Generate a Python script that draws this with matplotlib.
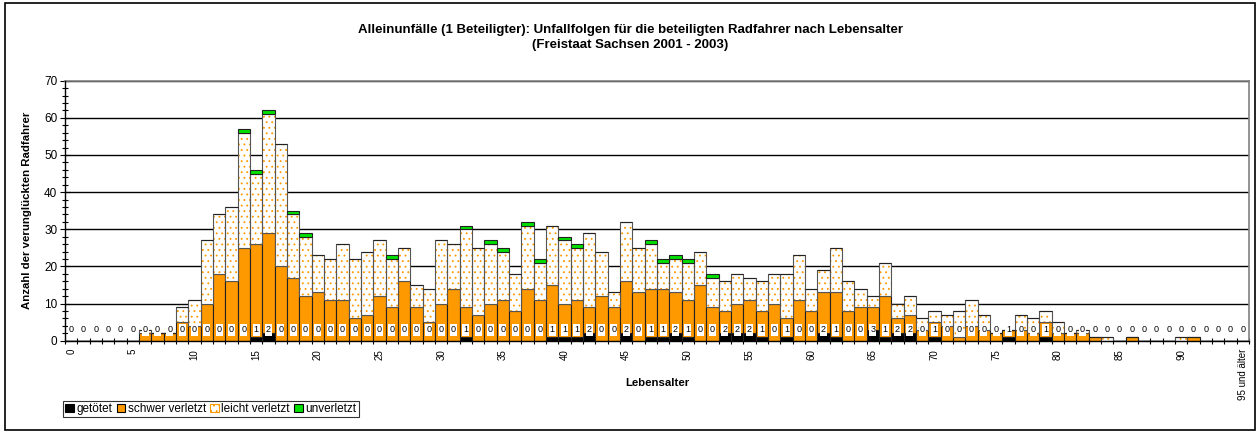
import matplotlib
matplotlib.use("Agg")
import matplotlib.pyplot as plt
from matplotlib.patches import Patch, Rectangle
import numpy as np

plt.rcParams['font.family'] = ['Liberation Sans', 'DejaVu Sans']
plt.rcParams['hatch.linewidth'] = 0.6

# ---------------- data ----------------
ages = list(range(96))
tick_labels = [str(a) if a % 5 == 0 and a < 95 else "" for a in ages]
tick_labels[95] = "95 und älter"

getoetet = [0]*15 + [1, 2] + [0]*15 + [1] + [0]*6 + [1, 1, 1, 2, 0, 0, 2, 0, 1, 1, 2, 1, 0, 0,
            2, 2, 2, 1, 0, 1, 0, 0, 2, 1, 0, 0, 3, 1, 2, 2, 0, 1, 0, 0, 0, 0, 0, 1, 0, 0, 1] + [0]*16

schwer = [0, 0, 0, 0, 0, 0, 2, 2, 2, 5, 4, 10, 18, 16, 25, 25, 27, 20, 17, 12,
          13, 11, 11, 6, 7, 12, 9, 16, 9, 5, 10, 14, 8, 7, 10, 11, 8, 14, 11, 14,
          9, 10, 7, 12, 9, 14, 13, 13, 13, 11, 10, 15, 9, 6, 8, 9, 7, 10, 5, 11,
          8, 11, 12, 8, 9, 6, 11, 4, 5, 3, 4, 4, 1, 4, 3, 2, 2, 3, 2, 4,
          2, 2, 2, 1, 0, 0, 1, 0, 0, 0, 0, 1, 0, 0, 0, 0]

leicht = [0, 0, 0, 0, 0, 0, 1, 0, 0, 4, 7, 17, 16, 20, 31, 19, 32, 33, 17, 16,
          10, 11, 15, 16, 17, 15, 13, 9, 6, 9, 17, 12, 21, 18, 16, 13, 10, 17, 10, 16,
          17, 14, 20, 12, 4, 16, 12, 12, 7, 9, 10, 9, 8, 8, 8, 6, 8, 8, 12, 12,
          6, 6, 12, 8, 5, 3, 9, 4, 5, 3, 3, 3, 7, 7, 4, 0, 0, 4, 4, 3,
          3, 0, 1, 0, 1, 0, 0, 0, 0, 0, 1, 0, 0, 0, 0, 0]

unverletzt = [0]*96
for a in [14, 15, 16, 18, 19, 26, 32, 34, 35, 37, 38, 40, 41, 47, 48, 49, 50, 52]:
    unverletzt[a] = 1

series_names = ["getötet", "schwer verletzt", "leicht verletzt", "unverletzt"]
title = ("Alleinunfälle (1 Beteiligter): Unfallfolgen für die beteiligten Radfahrer nach Lebensalter\n"
         "(Freistaat Sachsen 2001 - 2003)")

# ---------------- plot ----------------
BLACK = "#000000"
ORANGE = "#FF9900"
GREEN = "#00E000"

fig = plt.figure(figsize=(12.6, 4.32), dpi=100)
ax = fig.add_axes([0.0516, 0.2113, 0.9397, 0.6019])

x = np.arange(len(ages))
g = np.array(getoetet, float)
s = np.array(schwer, float)
l = np.array(leicht, float)
u = np.array(unverletzt, float)

w = 1.0
ax.bar(x, g, width=w, color=BLACK, edgecolor="#222222", linewidth=0.8, zorder=3)
ax.bar(x, s, width=w, bottom=g, color=ORANGE, edgecolor="#222222", linewidth=0.8, zorder=3)
ax.bar(x, l, width=w, bottom=g + s, color="white", edgecolor=ORANGE, hatch="...",
       linewidth=0, zorder=3)
ax.bar(x, l, width=w, bottom=g + s, fill=False, edgecolor="#555555", linewidth=0.8, zorder=3)
ax.bar(x, u, width=w, bottom=g + s + l, color=GREEN, edgecolor="#222222", linewidth=0.8, zorder=3)

for xi, val in zip(x, getoetet):
    ax.text(xi, 2.9, str(val), ha="center", va="center", fontsize=6.5, zorder=5,
            bbox=dict(boxstyle="square,pad=0.12", facecolor="white", edgecolor="none"))

ax.set_xlim(-0.5, 95.5)
ax.set_ylim(0, 70)
ax.set_yticks(np.arange(0, 71, 10))
ax.set_yticks(np.arange(0, 71, 2), minor=True)
ax.tick_params(axis="y", which="major", direction="inout", length=7, width=0.8, labelsize=8.5, pad=2)
ax.tick_params(axis="y", which="minor", direction="inout", length=4, width=0.8)

ax.set_xticks(x)
ax.set_xticklabels(tick_labels, rotation=90, fontsize=7)
ax.set_xticks(np.arange(-0.5, 96, 1), minor=True)
ax.tick_params(axis="x", which="major", length=0, pad=6)
ax.tick_params(axis="x", which="minor", direction="inout", length=5, width=0.8)

ax.grid(axis="y", which="major", color="black", linewidth=1.0, zorder=0)
ax.set_axisbelow(True)
for side in ["top", "right"]:
    ax.spines[side].set_color("#808080")
    ax.spines[side].set_linewidth(1.2)
for side in ["left", "bottom"]:
    ax.spines[side].set_color("black")
    ax.spines[side].set_linewidth(1.0)
    ax.spines[side].set_zorder(6)

ax.set_ylabel("Anzahl der verunglückten Radfahrer", fontsize=8.2, fontweight="bold")
ax.yaxis.set_label_coords(-0.028, 0.5)
ax.set_xlabel("Lebensalter", fontsize=8.2, fontweight="bold")
ax.xaxis.set_label_coords(0.5, -0.143)

fig.text(0.5, 0.913, title, ha="center", va="center", fontsize=9.5, fontweight="bold", linespacing=1.35)

handles = [
    Patch(facecolor=BLACK, edgecolor="black", linewidth=0.8),
    Patch(facecolor=ORANGE, edgecolor="black", linewidth=0.8),
    Patch(facecolor="white", edgecolor=ORANGE, hatch="...", linewidth=0.8),
    Patch(facecolor=GREEN, edgecolor="black", linewidth=0.8),
]
leg = fig.legend(handles, series_names, loc="lower left", bbox_to_anchor=(0.05, 0.034),
                 ncol=4, fontsize=8.5, frameon=True, fancybox=False, edgecolor="black",
                 borderpad=0.2, handlelength=0.75, handleheight=0.75, handletextpad=0.2,
                 columnspacing=0.35, borderaxespad=0)
leg.get_frame().set_linewidth(0.8)

fig.patches.append(Rectangle((5 / 1260, 2 / 432), 1250 / 1260, 427 / 432, transform=fig.transFigure,
                             fill=False, edgecolor="black", linewidth=1.2))

fig.savefig("out.png", dpi=100)
